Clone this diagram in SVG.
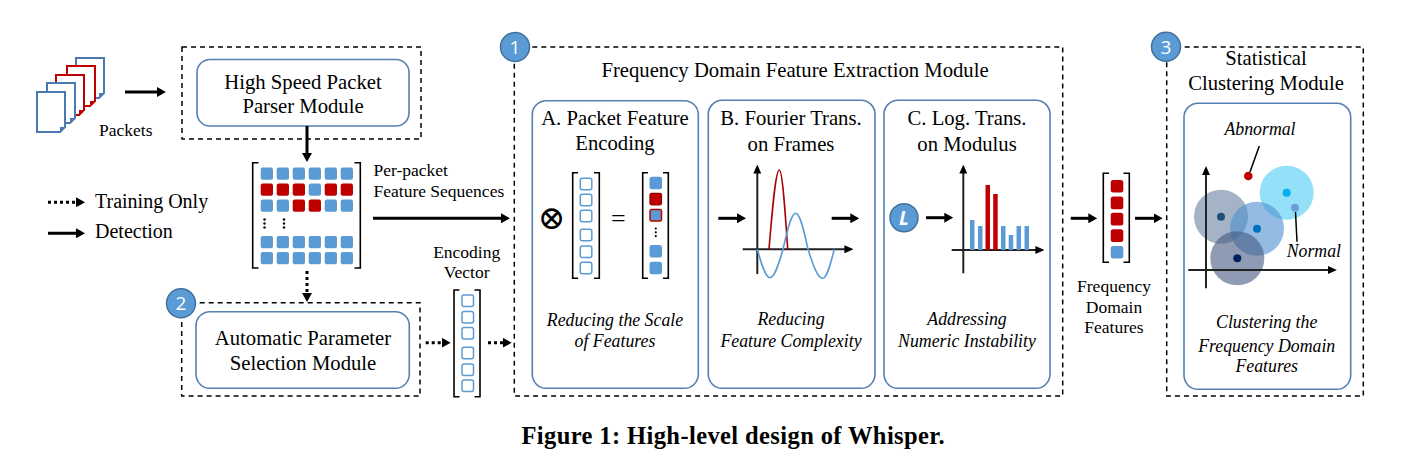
<svg xmlns="http://www.w3.org/2000/svg" width="1403" height="459" viewBox="0 0 1403 459">
<defs>
<style>
.t{font-family:"Liberation Serif","Times New Roman",serif;fill:#000}
.tt{font-size:20.7px;text-anchor:middle}
.ti{font-size:17.8px;font-style:italic;text-anchor:middle}
.ts{font-size:17.5px}
.tl{font-size:20px}
.dash{fill:none;stroke:#000;stroke-width:1.5;stroke-dasharray:5 4}
.rb{fill:#fff;stroke:#5480b2;stroke-width:1.6}
.badge{fill:#5b9bd5;stroke:#41719c;stroke-width:1.5}
.bn{font-family:"Open Sans","Liberation Sans",sans-serif;font-size:19px;fill:#fff;text-anchor:middle}
.sb{fill:#5b9bd5}
.sr{fill:#c00000}
.so{fill:#fff;stroke:#5b9bd5;stroke-width:1.5}
.br{fill:none;stroke:#000;stroke-width:1.6}
.solid{stroke:#000;stroke-width:3;fill:none}
.dot{stroke:#000;stroke-width:3;fill:none;stroke-dasharray:3 3}
.ax{stroke:#222;stroke-width:2;fill:none}
.pb{fill:#fff;stroke:#4a7ab0;stroke-width:2}
.pr{fill:#fff;stroke:#c00000;stroke-width:2}
</style>
<marker id="ah" viewBox="0 0 10 10" refX="5" refY="5" markerWidth="9" markerHeight="10" markerUnits="userSpaceOnUse" orient="auto" preserveAspectRatio="none"><path d="M0,0 L10,5 L0,10 z" fill="#000"/></marker>
<marker id="axh" viewBox="0 0 10 10" refX="4" refY="5" markerWidth="9" markerHeight="8" markerUnits="userSpaceOnUse" orient="auto" preserveAspectRatio="none"><path d="M0,0 L10,5 L0,10 z" fill="#000"/></marker>
</defs>
<rect width="1403" height="459" fill="#fff"/>

<!-- Packets -->
<g id="packets">
<path class="pb" d="M76,58 H104 V93 L99,98 H76 Z"/><path d="M104,93 L99,98 L99,93 Z" fill="#4a7ab0"/>
<path class="pr" d="M67,66 H95 V101 L90,106 H67 Z"/><path d="M95,101 L90,106 L90,101 Z" fill="#c00000"/>
<path class="pr" d="M56,75 H84 V110 L79,115 H56 Z"/><path d="M84,110 L79,115 L79,110 Z" fill="#c00000"/>
<path class="pb" d="M47,83 H75 V118 L70,123 H47 Z"/><path d="M75,118 L70,123 L70,118 Z" fill="#4a7ab0"/>
<path class="pb" d="M37,92 H65 V127 L60,132 H37 Z"/><path d="M65,127 L60,132 L60,127 Z" fill="#4a7ab0"/>
<text class="t ts" x="99" y="136">Packets</text>
</g>

<!-- Legend -->
<g id="legend">
<line class="dot" x1="48" y1="202.3" x2="80.5" y2="202.3" marker-end="url(#ah)"/>
<text class="t tl" x="95" y="208">Training Only</text>
<line class="solid" x1="48" y1="233.3" x2="80.5" y2="233.3" marker-end="url(#ah)"/>
<text class="t tl" x="95" y="238">Detection</text>
</g>

<!-- Parser module -->
<g id="parser">
<rect class="dash" x="182" y="47" width="239" height="92"/>
<rect class="rb" x="197" y="59.5" width="212" height="66.5" rx="13"/>
<text class="t tt" x="303" y="88.5">High Speed Packet</text>
<text class="t tt" x="303" y="113">Parser Module</text>
</g>

<!-- Feature sequence matrix -->
<g id="matrix">
<path class="br" d="M258.5,162.7 H252.7 V268 H258.5"/>
<path class="br" d="M354.5,162.7 H360.3 V268 H354.5"/>
<g>
<rect class="sb" x="260.7" y="167.5" width="12.3" height="12.3" rx="2"/><rect class="sb" x="276.7" y="167.5" width="12.3" height="12.3" rx="2"/><rect class="sb" x="292.7" y="167.5" width="12.3" height="12.3" rx="2"/><rect class="sb" x="308.7" y="167.5" width="12.3" height="12.3" rx="2"/><rect class="sb" x="324.7" y="167.5" width="12.3" height="12.3" rx="2"/><rect class="sb" x="340.7" y="167.5" width="12.3" height="12.3" rx="2"/>
<rect class="sr" x="260.7" y="183.5" width="12.3" height="12.3" rx="2"/><rect class="sr" x="276.7" y="183.5" width="12.3" height="12.3" rx="2"/><rect class="sr" x="292.7" y="183.5" width="12.3" height="12.3" rx="2"/><rect class="sb" x="308.7" y="183.5" width="12.3" height="12.3" rx="2"/><rect class="sr" x="324.7" y="183.5" width="12.3" height="12.3" rx="2"/><rect class="sr" x="340.7" y="183.5" width="12.3" height="12.3" rx="2"/>
<rect class="sb" x="260.7" y="199.5" width="12.3" height="12.3" rx="2"/><rect class="sb" x="276.7" y="199.5" width="12.3" height="12.3" rx="2"/><rect class="sr" x="292.7" y="199.5" width="12.3" height="12.3" rx="2"/><rect class="sr" x="308.7" y="199.5" width="12.3" height="12.3" rx="2"/><rect class="sb" x="324.7" y="199.5" width="12.3" height="12.3" rx="2"/><rect class="sb" x="340.7" y="199.5" width="12.3" height="12.3" rx="2"/>
<rect class="sb" x="260.7" y="236" width="12.3" height="12.3" rx="2"/><rect class="sb" x="276.7" y="236" width="12.3" height="12.3" rx="2"/><rect class="sb" x="292.7" y="236" width="12.3" height="12.3" rx="2"/><rect class="sb" x="308.7" y="236" width="12.3" height="12.3" rx="2"/><rect class="sb" x="324.7" y="236" width="12.3" height="12.3" rx="2"/><rect class="sb" x="340.7" y="236" width="12.3" height="12.3" rx="2"/>
<rect class="sb" x="260.7" y="252" width="12.3" height="12.3" rx="2"/><rect class="sb" x="276.7" y="252" width="12.3" height="12.3" rx="2"/><rect class="sb" x="292.7" y="252" width="12.3" height="12.3" rx="2"/><rect class="sb" x="308.7" y="252" width="12.3" height="12.3" rx="2"/><rect class="sb" x="324.7" y="252" width="12.3" height="12.3" rx="2"/><rect class="sb" x="340.7" y="252" width="12.3" height="12.3" rx="2"/>
</g>
<g fill="#000"><circle cx="264.5" cy="219.5" r="1.2"/><circle cx="264.5" cy="223.5" r="1.2"/><circle cx="264.5" cy="227.5" r="1.2"/><circle cx="284" cy="219.5" r="1.2"/><circle cx="284" cy="223.5" r="1.2"/><circle cx="284" cy="227.5" r="1.2"/></g>
<text class="t ts" x="373.5" y="176">Per-packet</text>
<text class="t ts" x="373.5" y="196.7">Feature Sequences</text>
</g>

<!-- Automatic parameter selection module -->
<g id="param">
<rect class="dash" x="181.7" y="302.7" width="238.3" height="93.3"/>
<rect class="rb" x="196" y="311.7" width="213.3" height="76.6" rx="14"/>
<text class="t tt" x="303" y="345">Automatic Parameter</text>
<text class="t tt" x="303" y="369.5">Selection Module</text>
<circle class="badge" cx="181" cy="303.3" r="14.5"/>
<text class="bn" x="181" y="310.3">2</text>
</g>

<!-- Encoding vector -->
<g id="encvec">
<text class="t ts" x="466.7" y="258.3" text-anchor="middle">Encoding</text>
<text class="t ts" x="466.7" y="277.7" text-anchor="middle">Vector</text>
<path class="br" d="M459.5,290 H454 V396.7 H459.5"/>
<path class="br" d="M474.5,290 H480 V396.7 H474.5"/>
<rect class="so" x="462" y="295" width="11.5" height="11.5" rx="2"/>
<rect class="so" x="462" y="311.5" width="11.5" height="11.5" rx="2"/>
<rect class="so" x="462" y="327.5" width="11.5" height="11.5" rx="2"/>
<rect class="so" x="462" y="347.3" width="11.5" height="11.5" rx="2"/>
<rect class="so" x="462" y="364" width="11.5" height="11.5" rx="2"/>
<rect class="so" x="462" y="380" width="11.5" height="11.5" rx="2"/>
</g>

<!-- Module 1 -->
<g id="module1">
<rect class="dash" x="514.3" y="47" width="548.4" height="349"/>
<text class="t tt" x="795" y="77">Frequency Domain Feature Extraction Module</text>
<circle class="badge" cx="515" cy="47" r="14.5"/>
<text class="bn" x="515" y="54">1</text>
</g>

<!-- A -->
<g id="boxA">
<rect class="rb" x="532.3" y="100.7" width="166" height="287.6" rx="14"/>
<text class="t tt" x="615" y="125">A. Packet Feature</text>
<text class="t tt" x="615" y="150">Encoding</text>
<text x="551.7" y="229" font-family="DejaVu Serif, DejaVu Sans, serif" font-size="33" font-weight="200" text-anchor="middle" fill="#000">⊗</text>
<path class="br" d="M578,172.7 H572.7 V278.3 H578"/>
<path class="br" d="M594,172.7 H599.3 V278.3 H594"/>
<rect class="so" x="580.3" y="178.3" width="11.5" height="11.5" rx="2"/>
<rect class="so" x="580.3" y="194.3" width="11.5" height="11.5" rx="2"/>
<rect class="so" x="580.3" y="210.3" width="11.5" height="11.5" rx="2"/>
<rect class="so" x="580.3" y="229.3" width="11.5" height="11.5" rx="2"/>
<rect class="so" x="580.3" y="246" width="11.5" height="11.5" rx="2"/>
<rect class="so" x="580.3" y="262.3" width="11.5" height="11.5" rx="2"/>
<text class="t" x="618.3" y="227" font-size="26" text-anchor="middle">=</text>
<path class="br" d="M648,172.7 H642.7 V278.3 H648"/>
<path class="br" d="M663,172.7 H668.3 V278.3 H663"/>
<rect class="sb" x="649.5" y="176.7" width="12.5" height="12.5" rx="2.5"/>
<rect x="650" y="193.3" width="11.5" height="11.5" rx="1.5" fill="#c00000" stroke="#8b0000" stroke-width="1.2"/>
<rect x="650" y="209.5" width="11.5" height="11.5" rx="1.5" fill="#5b9bd5" stroke="#c00000" stroke-width="1.5"/>
<g fill="#000"><circle cx="655.8" cy="228.5" r="1.1"/><circle cx="655.8" cy="232.3" r="1.1"/><circle cx="655.8" cy="236.1" r="1.1"/></g>
<rect class="sb" x="649.5" y="245" width="12.5" height="12.5" rx="2.5"/>
<rect class="sb" x="649.5" y="261.7" width="12.5" height="12.5" rx="2.5"/>
<text class="t ti" x="615" y="326">Reducing the Scale</text>
<text class="t ti" x="615" y="347.3">of Features</text>
</g>

<!-- B -->
<g id="boxB">
<rect class="rb" x="708.3" y="100.3" width="166.7" height="288" rx="14"/>
<text class="t tt" x="791" y="125">B. Fourier Trans.</text>
<text class="t tt" x="791" y="150.5">on Frames</text>
<line class="ax" x1="757.3" y1="274" x2="757.3" y2="170" marker-end="url(#axh)"/>
<line class="ax" x1="742.7" y1="249.3" x2="848" y2="249.3" marker-end="url(#axh)"/>
<path d="M769,249.3 C772.4,208.7 775.6,170 779.3,170 C782.3,170 785,208.7 787.7,249.3" fill="none" stroke="#a80000" stroke-width="1.6"/>
<path d="M757.3,249.3 C761.4,263.9 765.4,277.7 770,277.7 C774.7,277.7 778.8,263.9 783,249.3 C787.1,230.9 791.1,213.3 795.7,213.3 C800.2,213.3 804,230.9 808,249.3 C812.8,264.2 817.4,278.3 822.7,278.3 C826.9,278.3 830.5,264.2 834.3,249.3" fill="none" stroke="#5b9bd5" stroke-width="1.6"/>
<text class="t ti" x="791" y="325">Reducing</text>
<text class="t ti" x="791" y="346.7">Feature Complexity</text>
</g>

<!-- C -->
<g id="boxC">
<rect class="rb" x="884" y="100.3" width="166" height="288" rx="14"/>
<text class="t tt" x="967" y="125">C. Log. Trans.</text>
<text class="t tt" x="967" y="150.5">on Modulus</text>
<circle class="badge" cx="904" cy="217.7" r="14"/>
<text x="904" y="225" font-family="Open Sans, Liberation Sans, sans-serif" font-size="19" font-style="italic" font-weight="bold" fill="#fff" text-anchor="middle">L</text>
<line class="ax" x1="963.3" y1="273.3" x2="963.3" y2="170" marker-end="url(#axh)"/>
<line class="ax" x1="951.7" y1="250" x2="1039" y2="250" marker-end="url(#axh)"/>
<rect class="sb" x="970" y="220" width="4.5" height="30"/>
<rect class="sb" x="978" y="226" width="4.5" height="24"/>
<rect class="sr" x="985.5" y="185" width="4.5" height="65"/>
<rect class="sr" x="993.2" y="194" width="4.5" height="56"/>
<rect class="sb" x="1001" y="226" width="4.5" height="24"/>
<rect class="sb" x="1008.7" y="235" width="4.5" height="15"/>
<rect class="sb" x="1016.5" y="226" width="4.5" height="24"/>
<rect class="sb" x="1024.5" y="226" width="4.5" height="24"/>
<text class="t ti" x="967" y="325">Addressing</text>
<text class="t ti" x="967" y="346.7">Numeric Instability</text>
</g>

<!-- Frequency domain features -->
<g id="freqfeat">
<path class="br" d="M1109,173.3 H1103.3 V262.3 H1109"/>
<path class="br" d="M1123.5,173.3 H1129.3 V262.3 H1123.5"/>
<rect class="sr" x="1110.7" y="180" width="12.6" height="12.6" rx="2.5"/>
<rect class="sr" x="1110.7" y="196.6" width="12.6" height="12.6" rx="2.5"/>
<rect class="sr" x="1110.7" y="212.8" width="12.6" height="12.6" rx="2.5"/>
<rect class="sr" x="1110.7" y="229.3" width="12.6" height="12.6" rx="2.5"/>
<rect class="sb" x="1110.7" y="246" width="12.6" height="12.6" rx="2.5"/>
<text class="t ts" x="1114" y="291.7" text-anchor="middle">Frequency</text>
<text class="t ts" x="1114" y="312.7" text-anchor="middle">Domain</text>
<text class="t ts" x="1114" y="333.3" text-anchor="middle">Features</text>
</g>

<!-- Module 3 -->
<g id="module3">
<rect class="dash" x="1166.7" y="47" width="196.6" height="349"/>
<text class="t tt" x="1266" y="64.5">Statistical</text>
<text class="t tt" x="1266" y="90">Clustering Module</text>
<rect class="rb" x="1184" y="103.3" width="166.7" height="286" rx="14"/>
<text class="t ti" x="1260" y="135">Abnormal</text>
<line x1="1250" y1="172" x2="1259.3" y2="146" stroke="#000" stroke-width="1.5"/>
<circle cx="1221" cy="216.7" r="27" fill="#5a7596" fill-opacity="0.55"/>
<circle cx="1286.7" cy="192.7" r="27" fill="#5acff5" fill-opacity="0.65"/>
<circle cx="1257" cy="228.7" r="27" fill="#4d8fcf" fill-opacity="0.6"/>
<circle cx="1237.3" cy="258.3" r="27" fill="#45587f" fill-opacity="0.6"/>
<line class="ax" x1="1206" y1="288.3" x2="1206" y2="171.5" marker-end="url(#axh)"/>
<line class="ax" x1="1188.3" y1="270" x2="1331.5" y2="270" marker-end="url(#axh)"/>
<circle cx="1221" cy="216.7" r="4" fill="#1f4e79"/>
<circle cx="1257" cy="228.7" r="4" fill="#0070c0"/>
<circle cx="1237.3" cy="258.3" r="4" fill="#002060"/>
<circle cx="1286.7" cy="192.7" r="4" fill="#00b0f0"/>
<circle cx="1295" cy="207.7" r="4" fill="#6a9fd8"/>
<circle cx="1248.3" cy="176" r="4.3" fill="#c00000"/>
<line x1="1295.5" y1="212" x2="1297" y2="241.7" stroke="#000" stroke-width="1.5"/>
<text class="t" x="1286.7" y="256.7" font-size="17.8" font-style="italic">Normal</text>
<text class="t ti" x="1266.7" y="328.3">Clustering the</text>
<text class="t ti" x="1266.7" y="351.7">Frequency Domain</text>
<text class="t ti" x="1266.7" y="371.7">Features</text>
<circle class="badge" cx="1166" cy="46.7" r="14.5"/>
<text class="bn" x="1166" y="53.7">3</text>
</g>

<!-- Connectors -->
<g id="connectors">
<line class="solid" x1="125" y1="92" x2="161.5" y2="92" marker-end="url(#ah)"/>
<line class="solid" x1="307" y1="126" x2="307" y2="157.5" marker-end="url(#ah)"/>
<line class="solid" x1="373" y1="218.3" x2="505.5" y2="218.3" marker-end="url(#ah)"/>
<line class="dot" x1="307" y1="271" x2="307" y2="297.5" marker-end="url(#ah)"/>
<line class="dot" x1="425.7" y1="342.7" x2="446.2" y2="342.7" marker-end="url(#ah)"/>
<line class="dot" x1="488" y1="342.7" x2="507.2" y2="342.7" marker-end="url(#ah)"/>
<line class="solid" x1="718.3" y1="218.3" x2="741.5" y2="218.3" marker-end="url(#ah)"/>
<line class="solid" x1="831.7" y1="218.3" x2="854.8" y2="218.3" marker-end="url(#ah)"/>
<line class="solid" x1="926" y1="217.7" x2="948.8" y2="217.7" marker-end="url(#ah)"/>
<line class="solid" x1="1070.7" y1="218.3" x2="1092.8" y2="218.3" marker-end="url(#ah)"/>
<line class="solid" x1="1135" y1="218.3" x2="1158.2" y2="218.3" marker-end="url(#ah)"/>
</g>

<text x="733" y="443.5" font-family="Liberation Serif, Times New Roman, serif" font-size="24.5" font-weight="bold" text-anchor="middle" textLength="423" lengthAdjust="spacing" fill="#000">Figure 1: High-level design of Whisper.</text>
</svg>
